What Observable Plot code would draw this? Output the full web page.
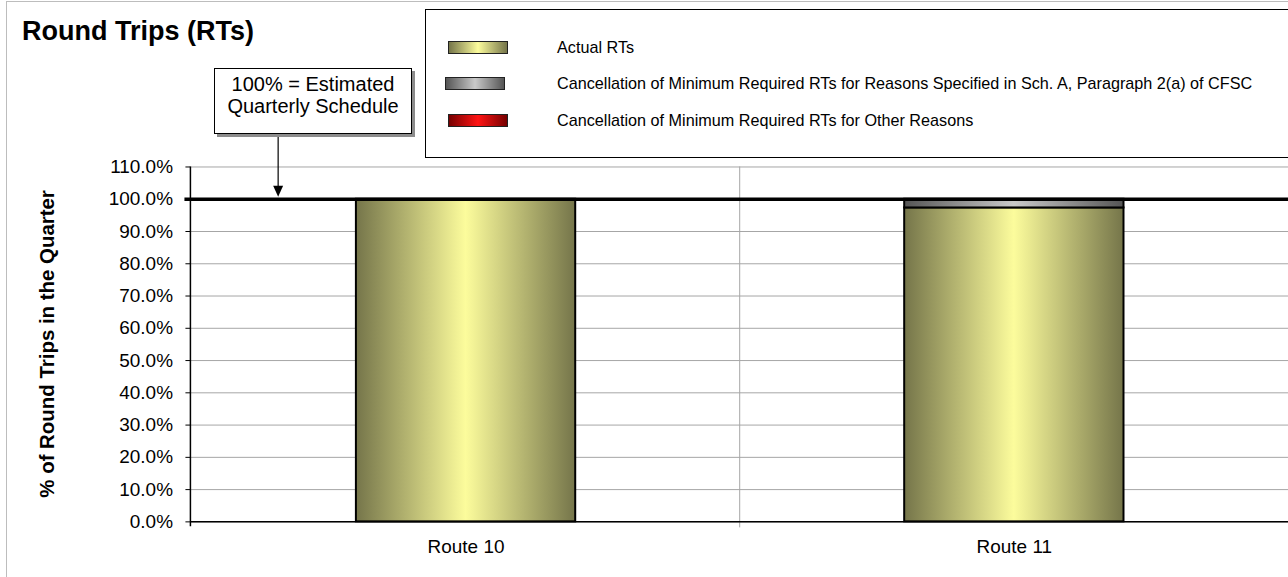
<!DOCTYPE html>
<html>
<head>
<meta charset="utf-8">
<script src="https://cdn.jsdelivr.net/npm/d3@7"></script>
<script src="https://cdn.jsdelivr.net/npm/@observablehq/plot@0.6"></script>
<style>
html, body { margin: 0; padding: 0; overflow: hidden; background: #fff; }
#wrap { position: relative; width: 1288px; height: 577px; overflow: hidden; font-family: "Liberation Sans", Arial, Helvetica, sans-serif; color: #000; }
#outer { position: absolute; left: 6px; top: 1px; width: 1400px; height: 700px; border: 1.5px solid #bdbdbd; box-sizing: border-box; }
#chart { position: absolute; left: 0; top: 0; }
#title { position: absolute; left: 22px; top: 18px; font-size: 27px; line-height: 27px; font-weight: bold; white-space: nowrap; }
#legend { position: absolute; left: 425px; top: 9px; width: 1000px; height: 149px; border: 1.2px solid #000; box-sizing: border-box; background: #fff; }
.sw { position: absolute; width: 60px; height: 13px; border: 1.5px solid #222; box-sizing: border-box; }
.lt { position: absolute; left: 131px; font-size: 16.2px; line-height: 16px; white-space: nowrap; }
#callout { position: absolute; left: 214px; top: 68px; width: 198px; height: 66px; border: 1px solid #000; box-sizing: border-box; background: #fff; box-shadow: 3px 3px 0 #8c8c8c; text-align: center; font-size: 20px; line-height: 22.5px; padding-top: 3.5px; white-space: nowrap; }
</style>
</head>
<body>
<div id="wrap">
  <div id="outer"></div>
  <div id="chart"></div>
  <div id="title">Round Trips (RTs)</div>
  <div id="legend"></div>
  <div id="callout">100% = Estimated<br>Quarterly Schedule</div>
</div>
<script>
// ---- Data ----
const routes = ["Route 10", "Route 11"];
const seriesNames = [
  "Actual RTs",
  "Cancellation of Minimum Required RTs for Reasons Specified in Sch. A, Paragraph 2(a) of CFSC",
  "Cancellation of Minimum Required RTs for Other Reasons"
];
const actualRTs   = [100.0, 97.3];
const cancelSchA  = [0.0, 2.7];
const cancelOther = [0.0, 0.0];
const yTicks = [0, 10, 20, 30, 40, 50, 60, 70, 80, 90, 100, 110];
const scheduleLevel = 100;
const yAxisTitle = "% of Round Trips in the Quarter";

// ---- Styling (not data) ----
const gradIds = ["gActual", "gSchA", "gOther"];
const gradStops = [
  ["#75754a", "#fcfc9c", "#75754a"],
  ["#555555", "#c9c9c9", "#555555"],
  ["#760000", "#ff1414", "#760000"]
];

const seriesValues = [actualRTs, cancelSchA, cancelOther];
const table = [];
routes.forEach((r, i) => {
  seriesNames.forEach((s, j) => {
    table.push({route: r, series: s, value: seriesValues[j][i]});
  });
});

const W = 1292, H = 577;

const decor = (index, scales, values, dims) => {
  const g = d3.create("svg:g");
  const x = scales.x;
  const left = dims.marginLeft, bottom = dims.height - dims.marginBottom, top = dims.marginTop;
  for (let i = 0; i < routes.length - 1; i++) {
    const bx = x(routes[i]) + x.bandwidth() + (x.step() - x.bandwidth()) / 2;
    g.append("line").attr("x1", bx).attr("x2", bx).attr("y1", top).attr("y2", bottom + 6)
      .attr("stroke", "#a6a6a6").attr("stroke-width", 1);
  }
  g.append("line").attr("x1", left).attr("x2", left).attr("y1", top).attr("y2", bottom + 5)
    .attr("stroke", "#000").attr("stroke-width", 1.5);
  g.append("text")
    .attr("transform", `translate(47,${(top + bottom) / 2}) rotate(-90)`)
    .attr("text-anchor", "middle").attr("dominant-baseline", "central")
    .attr("font-size", 20.5).attr("font-weight", "bold").attr("fill", "#000")
    .text(yAxisTitle);
  return g.node();
};

const arrow = (index, scales) => {
  const g = d3.create("svg:g");
  const yEnd = scales.y(scheduleLevel) - 2;
  const ax = 279;
  g.append("line").attr("x1", ax).attr("x2", ax).attr("y1", 134).attr("y2", yEnd - 8)
    .attr("stroke", "#000").attr("stroke-width", 1.2);
  g.append("path").attr("d", `M${ax - 5},${yEnd - 11} L${ax + 5},${yEnd - 11} L${ax},${yEnd} Z`).attr("fill", "#000");
  return g.node();
};

const svg = Plot.plot({
  width: W,
  height: H,
  marginLeft: 191,
  marginRight: 0,
  marginTop: 167,
  marginBottom: 54,
  style: {fontFamily: '"Liberation Sans", Arial, sans-serif', color: "#000", background: "transparent", overflow: "visible"},
  x: {domain: routes, paddingInner: 0.6, paddingOuter: 0.3, align: 0.5, axis: null, label: null},
  y: {domain: [0, 110], axis: null, label: null},
  color: {domain: seriesNames, range: gradIds.map(id => `url(#${id})`)},
  marks: [
    Plot.gridY(yTicks, {stroke: "#a6a6a6", strokeOpacity: 1, strokeWidth: 1}),
    decor,
    Plot.barY(table.filter(d => d.value > 0), {x: "route", y: "value", fill: "series", stroke: "#000", strokeWidth: 2}),
    Plot.ruleY([0], {stroke: "#000", strokeWidth: 1.5}),
    Plot.ruleY([scheduleLevel], {stroke: "#000", strokeWidth: 3.5, insetLeft: -6}),
    Plot.axisY(yTicks, {tickFormat: () => "", tickSize: 5, tickPadding: 0, stroke: "#000", label: null}),
    Plot.text(yTicks, {y: d => d, text: d => d.toFixed(1) + "%", frameAnchor: "left", dx: -18, textAnchor: "end", fontSize: 19, fill: "#000"}),
    Plot.axisX({tickSize: 0, tickPadding: 18, fontSize: 19, label: null}),
    arrow
  ]
});

const defs = d3.select(svg).insert("defs", ":first-child");
gradIds.forEach((id, i) => {
  const lg = defs.append("linearGradient").attr("id", id).attr("x1", "0").attr("x2", "1").attr("y1", "0").attr("y2", "0");
  [0, 0.5, 1].forEach((o, k) => lg.append("stop").attr("offset", o).attr("stop-color", gradStops[i][k]));
});

document.getElementById("chart").appendChild(svg);

// ---- Legend ----
const legend = document.getElementById("legend");
const rowCenters = [38, 74, 111];
const swLeft = [22, 19, 22];
seriesNames.forEach((s, i) => {
  const sw = document.createElement("div");
  sw.className = "sw";
  sw.style.left = swLeft[i] + "px";
  sw.style.top = (rowCenters[i] - 7) + "px";
  sw.style.background = `linear-gradient(to right, ${gradStops[i][0]}, ${gradStops[i][1]}, ${gradStops[i][2]})`;
  legend.appendChild(sw);
  const t = document.createElement("div");
  t.className = "lt";
  t.style.top = (rowCenters[i] - 9) + "px";
  t.textContent = s;
  legend.appendChild(t);
});
</script>
</body>
</html>
